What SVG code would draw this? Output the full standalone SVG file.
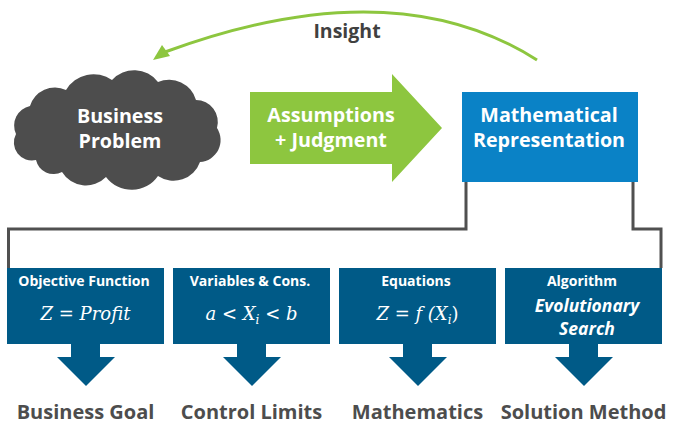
<svg xmlns="http://www.w3.org/2000/svg" width="676" height="425" viewBox="0 0 676 425">
<defs>
<style>
.t{font-family:"Open Sans","Noto Sans","Liberation Sans",sans-serif;font-weight:bold;text-anchor:middle}
.w{fill:#ffffff}
.big{font-size:19.7px}
.sm{font-size:14px}
.lbl{font-size:20px;fill:#4d4d4d}
.m{font-family:"DejaVu Serif","Liberation Serif",serif;font-style:italic;font-size:18px;fill:#ffffff;text-anchor:middle}
.box{fill:#005a87}
.ln{fill:none;stroke:#505050;stroke-width:3}
</style>
</defs>
<g id="connectors">
<path class="ln" d="M466,182 V229 H8.5 V268"/>
<path class="ln" d="M633,182 V229 H661 V268"/>
<path d="M537,60 Q393,-32 165,52" fill="none" stroke="#8dc63f" stroke-width="3"/>
<path d="M153,60 L162,45 L170,56 Z" fill="#8dc63f"/>
</g>
<g id="insight"><text class="t" x="347" y="38" font-size="19.5" fill="#404040">Insight</text></g>
<g id="business-problem">
<path fill="#4d4d4d" d="M36,160 A18,18 0 0 1 16,134 A20,20 0 0 1 30,106 A26,26 0 0 1 66,90 A32,32 0 0 1 112,80 A30,30 0 0 1 158,82 A28,28 0 0 1 196,100 A22,22 0 0 1 217,128 A22,22 0 0 1 200,162 A28,28 0 0 1 158,176 A32,32 0 0 1 106,177 A28,28 0 0 1 62,172 A18,18 0 0 1 36,160 Z"/>
<text class="t w big" x="120" y="123">Business</text>
<text class="t w big" x="120" y="148">Problem</text>
</g>
<g id="assumptions">
<path fill="#8dc63f" d="M250,92 H392 V74 L442,128 L392,182 V164 H250 Z"/>
<text class="t w big" x="331" y="122">Assumptions</text>
<text class="t w big" x="331" y="147">+ Judgment</text>
</g>
<g id="math-rep">
<rect x="462" y="92" width="176" height="90" fill="#0a82c6"/>
<text class="t w big" x="549" y="122">Mathematical</text>
<text class="t w big" x="549" y="147">Representation</text>
</g>
<g id="objective">
<rect class="box" x="7" y="268" width="157" height="76"/>
<text class="t w sm" x="84" y="286">Objective Function</text>
<text class="m" x="85.5" y="320">Z = Profit</text>
<path class="box" d="M71,344 H100 V357 H115 L86,386 L57,357 H71 Z"/>
<text class="t lbl" x="85.5" y="419">Business Goal</text>
</g>
<g id="variables">
<rect class="box" x="173" y="268" width="157" height="76"/>
<text class="t w sm" x="250" y="286">Variables &amp; Cons.</text>
<text class="m" x="251.5" y="320">a &lt; X<tspan font-size="12" dy="4">i</tspan><tspan dy="-4"> &lt; b</tspan></text>
<path class="box" d="M237,344 H266 V357 H281 L252,386 L223,357 H237 Z"/>
<text class="t lbl" x="251.5" y="419">Control Limits</text>
</g>
<g id="equations">
<rect class="box" x="339" y="268" width="157" height="76"/>
<text class="t w sm" x="416" y="286">Equations</text>
<text class="m" x="417.5" y="320">Z = f (X<tspan font-size="12" dy="4">i</tspan><tspan dy="-4" font-style="normal">)</tspan></text>
<path class="box" d="M403,344 H432 V357 H447 L418,386 L389,357 H403 Z"/>
<text class="t lbl" x="417.5" y="419">Mathematics</text>
</g>
<g id="algorithm">
<rect class="box" x="505" y="268" width="157" height="76"/>
<text class="t w sm" x="582" y="286">Algorithm</text>
<text class="t w" x="587" y="312" font-size="17.5" font-style="italic">Evolutionary</text>
<text class="t w" x="587" y="335" font-size="17.5" font-style="italic">Search</text>
<path class="box" d="M569,344 H598 V357 H613 L584,386 L555,357 H569 Z"/>
<text class="t lbl" x="583.5" y="419">Solution Method</text>
</g>
</svg>
